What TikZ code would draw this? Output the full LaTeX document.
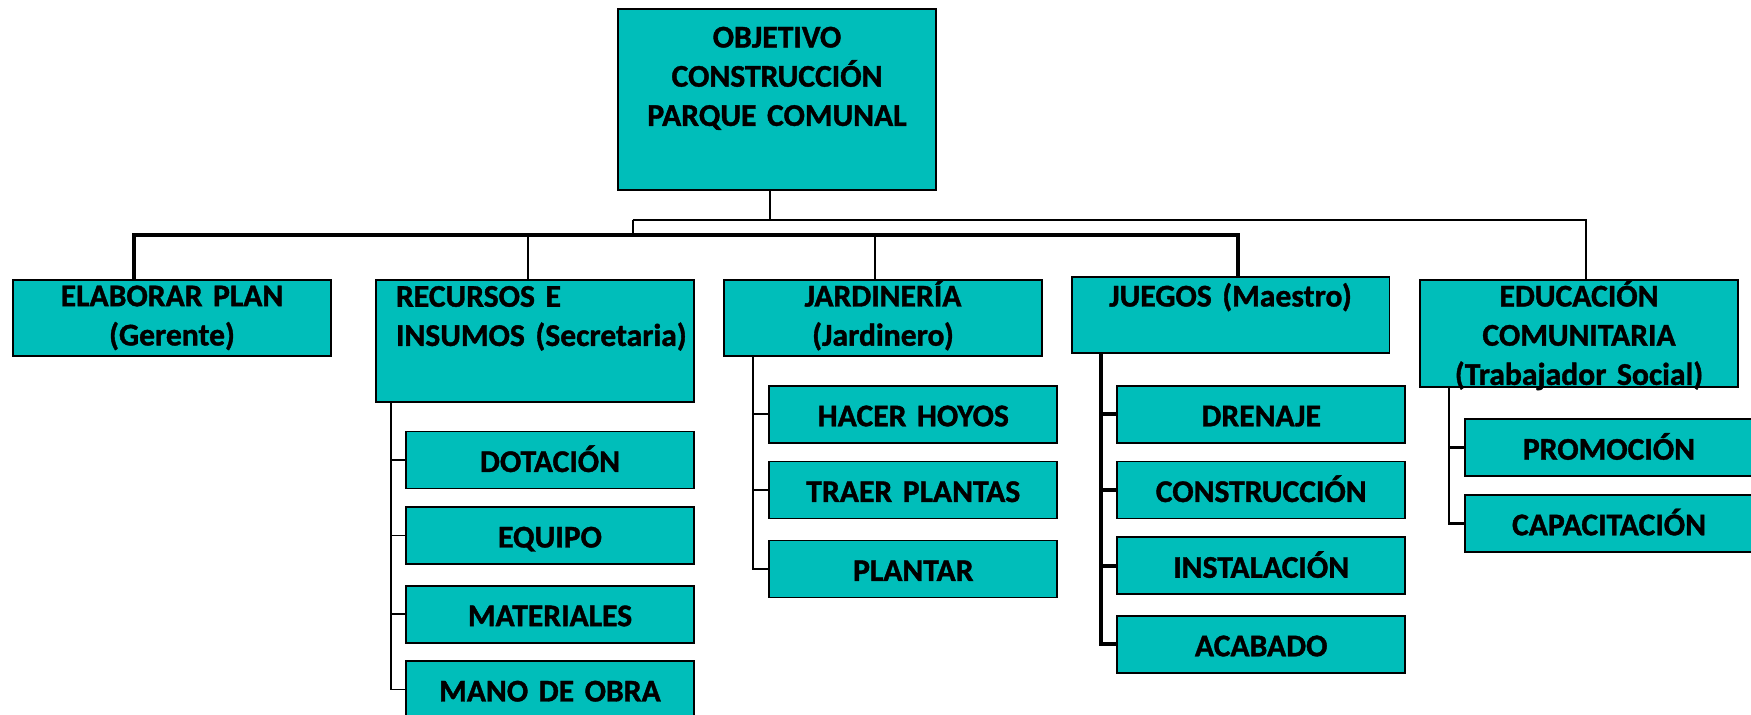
\documentclass[tikz,border=0pt]{standalone}
\usepackage{fontspec}
\setmainfont{Carlito}[WordSpace=0.8,BoldFeatures={FakeBold=1.2}]
\definecolor{cajaC}{RGB}{0,190,186}
\tikzstyle{bT}=[draw=black,line width=1.1pt,fill=cajaC,inner sep=0pt,font=\bfseries\fontsize{18}{22.3}\selectfont,align=center]
\tikzstyle{bN}=[bT,text width=6.36cm]
\tikzstyle{bH}=[bT,text width=5.76cm,text height=0.81cm,text depth=0.33cm]
\tikzstyle{lT}=[line width=1.1pt]
\tikzstyle{lG}=[line width=2.2pt]

\begin{document}
\begin{tikzpicture}[x=0.02cm,y=-0.02cm]
    \useasboundingbox (0,0) rectangle (1751,715);
    \draw (777,99.5) node[bN,text height=0.77cm,text depth=2.85cm] (obj) {OBJETIVO\\CONSTRUCCIÓN\\PARQUE COMUNAL};
    % primer nivel
    \draw (172,318) node[bN,text height=0.53cm,text depth=1.0cm] (elab) {ELABORAR PLAN\\(Gerente)};
    \draw (535,341) node[bN,align=left,text width=5.56cm,inner xsep=0.4cm,text height=0.53cm,text depth=1.9cm] (rec) {RECURSOS E\\\mbox{INSUMOS (Secretaria)}};
    \draw (883,318) node[bN,text height=0.53cm,text depth=0.99cm] (jar) {JARDINERÍA\\(Jardinero)};
    \draw (1230.5,315) node[bN,text height=0.584cm,text depth=0.924cm] (jue) {JUEGOS (Maestro)};
    \draw (1579,333.5) node[bN,text height=0.53cm,text depth=1.61cm] (edu) {EDUCACIÓN\\COMUNITARIA\\(Trabajador Social)};
    % segundo nivel
    \draw (550,460) node[bH] (dot) {DOTACIÓN};
    \draw (550,535.5) node[bH] (equ) {EQUIPO};
    \draw (550,614.2) node[bH] (mat) {MATERIALES};
    \draw (550,689.5) node[bH] (mano) {MANO DE OBRA};
    \draw (913.3,414.3) node[bH] (hoy) {HACER HOYOS};
    \draw (913.3,490) node[bH] (tra) {TRAER PLANTAS};
    \draw (913.3,569) node[bH] (pla) {PLANTAR};
    \draw (1261.2,414.3) node[bH] (dre) {DRENAJE};
    \draw (1261.2,490) node[bH] (con) {CONSTRUCCIÓN};
    \draw (1261.2,565.8) node[bH] (ins) {INSTALACIÓN};
    \draw (1261.2,644.3) node[bH] (aca) {ACABADO};
    \draw (1609,447.7) node[bH] (pro) {PROMOCIÓN};
    \draw (1609,523.3) node[bH] (cap) {CAPACITACIÓN};
    % conectores
    \coordinate (s) at (769.7,220);
    \coordinate (s0) at (632.6,220);
    \coordinate (s1) at (632.6,235.3);
    \coordinate (d1) at (134,235.3);
    \coordinate (d2) at (527.9,235.3);
    \coordinate (d3) at (875,235.3);
    \coordinate (d4) at (1238,235.3);
    \coordinate (d5) at (1585.6,220);
    \draw[lT] (s |- obj.south) -- (s);
    \draw[lT] (s0) -- (d5) -- (d5 |- edu.north);
    \draw[lT] (s0) -- (s1);
    \draw[lG] (d1 |- elab.north) -- (d1) -- (d4) -- (d4 |- jue.north);
    \draw[lT] (d2) -- (d2 |- rec.north);
    \draw[lT] (d3) -- (d3 |- jar.north);
    \draw[lT] ([xshift=0.32cm]rec.south west) |- (dot.west);
    \draw[lT] ([xshift=0.32cm]rec.south west) |- (equ.west);
    \draw[lT] ([xshift=0.32cm]rec.south west) |- (mat.west);
    \draw[lT] ([xshift=0.32cm]rec.south west) |- (mano.west);
    \draw[lT] ([xshift=0.6cm]jar.south west) |- (hoy.west);
    \draw[lT] ([xshift=0.6cm]jar.south west) |- (tra.west);
    \draw[lT] ([xshift=0.6cm]jar.south west) |- (pla.west);
    \draw[lG] ([xshift=0.6cm]jue.south west) |- (dre.west);
    \draw[lG] ([xshift=0.6cm]jue.south west) |- (con.west);
    \draw[lG] ([xshift=0.6cm]jue.south west) |- (ins.west);
    \draw[lG] ([xshift=0.6cm]jue.south west) |- (aca.west);
    \draw[lT,line width=1.5pt] ([xshift=0.6cm]edu.south west) |- (pro.west);
    \draw[lT,line width=1.5pt] ([xshift=0.6cm]edu.south west) |- (cap.west);
\end{tikzpicture}
\end{document}
